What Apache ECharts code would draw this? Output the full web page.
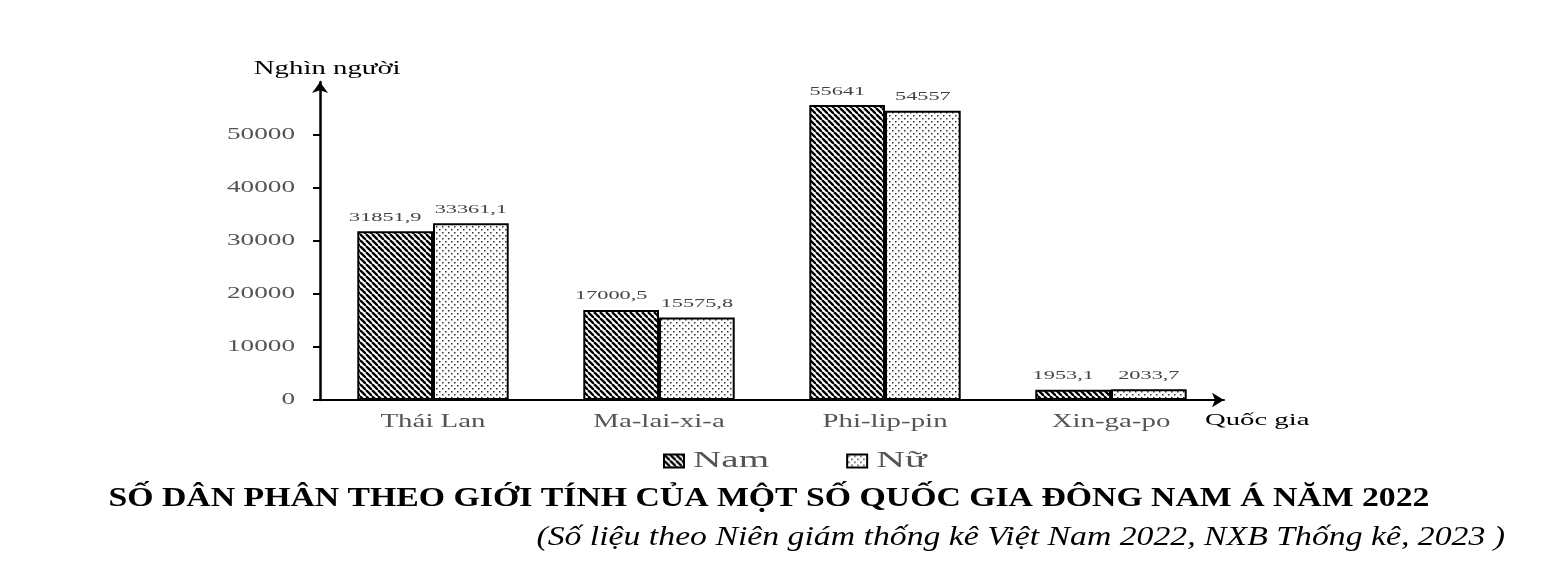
<!DOCTYPE html>
<html>
<head>
<meta charset="utf-8">
<script src="https://cdn.jsdelivr.net/npm/echarts@6/dist/echarts.min.js"></script>
<style>html,body{margin:0;padding:0;background:#fff}#c{width:1555px;height:561px}</style>
</head>
<body>
<div id="c"></div>
<script>
const categories = ['Thái Lan', 'Ma-lai-xi-a', 'Phi-lip-pin', 'Xin-ga-po'];
const namValues = [31851.9, 17000.5, 55641, 1953.1];
const nuValues = [33361.1, 15575.8, 54557, 2033.7];
const yTicks = [0, 10000, 20000, 30000, 40000, 50000];
const titleText = 'SỐ DÂN PHÂN THEO GIỚI TÍNH CỦA MỘT SỐ QUỐC GIA ĐÔNG NAM Á NĂM 2022';
const subText = '(Số liệu theo Niên giám thống kê Việt Nam 2022, NXB Thống kê, 2023 )';

function stripePattern() {
  const c = document.createElement('canvas');
  const s = 6;
  c.width = s; c.height = s;
  const g = c.getContext('2d');
  g.fillStyle = '#fff'; g.fillRect(0, 0, s, s);
  g.strokeStyle = '#000'; g.lineWidth = 2.3;
  for (const o of [-s, 0, s]) {
    g.beginPath(); g.moveTo(o, 0); g.lineTo(o + s, s); g.stroke();
  }
  return c;
}
function dotPattern() {
  const c = document.createElement('canvas');
  const s = 6;
  c.width = s; c.height = s;
  const g = c.getContext('2d');
  g.fillStyle = '#fff'; g.fillRect(0, 0, s, s);
  g.fillStyle = '#333';
  g.fillRect(1, 1, 1.5, 1.5);
  g.fillRect(4, 4, 1.5, 1.5);
  return c;
}
const fmt = v => String(v).replace('.', ',');
const serif = '"Liberation Serif", "Times New Roman", serif';

const chart = echarts.init(document.getElementById('c'));
chart.setOption({
  animation: false,
  textStyle: { fontFamily: serif },
  title: [
    {
      text: titleText,
      left: 764, top: 481, textAlign: 'center',
      textStyle: { fontFamily: serif, fontWeight: 'bold', fontSize: 27, color: '#000' }
    },
    {
      text: subText,
      left: 1500, top: 519, textAlign: 'right',
      textStyle: { fontFamily: serif, fontStyle: 'italic', fontWeight: 'normal', fontSize: 27, color: '#000' }
    }
  ],
  legend: {
    left: 658, top: 444, itemGap: 108, itemWidth: 20, itemHeight: 13, icon: 'rect',
    textStyle: { fontFamily: serif, fontSize: 24, color: '#555', padding: [0, 0, 0, 2.5] },
    data: ['Nam', 'Nữ']
  },
  grid: { left: 320, right: 331, top: 82, bottom: 161 },
  xAxis: {
    type: 'category', data: categories,
    name: 'Quốc gia', nameLocation: 'end', nameGap: -19,
    nameTextStyle: { fontFamily: serif, fontSize: 17.5, color: '#000', verticalAlign: 'top', align: 'left', padding: [11.5, 0, 0, 0] },
    axisLine: { lineStyle: { color: '#000', width: 2 }, symbol: ['none', 'arrow'], symbolSize: [11, 12] },
    axisTick: { show: false },
    axisLabel: { fontFamily: serif, fontSize: 19, color: '#555', margin: 13 }
  },
  yAxis: {
    type: 'value', min: 0, max: 60000,
    name: 'Nghìn người', nameLocation: 'end', nameGap: 4,
    nameTextStyle: { fontFamily: serif, fontSize: 18, color: '#000', align: 'center', padding: [0, 0, 0, 9] },
    axisLine: { show: true, lineStyle: { color: '#000', width: 2.5 }, symbol: ['none', 'arrow'], symbolSize: [12, 11] },
    axisTick: { show: true, length: 7, lineStyle: { color: '#000', width: 2 }, customValues: yTicks },
    axisLabel: { fontFamily: serif, fontSize: 16.5, color: '#555', margin: 25, customValues: yTicks, formatter: v => String(v) },
    splitLine: { show: false }
  },
  series: [
    {
      name: 'Nam', type: 'bar', data: namValues, barGap: '0%', barCategoryGap: '33%',
      itemStyle: { color: { image: stripePattern(), repeat: 'repeat' }, borderColor: '#000', borderWidth: 2 },
      label: { show: true, position: 'top', distance: 7, offset: [-6, 0], fontFamily: serif, fontSize: 13.5, color: '#444', formatter: p => fmt(p.value) }
    },
    {
      name: 'Nữ', type: 'bar', data: nuValues,
      itemStyle: { color: { image: dotPattern(), repeat: 'repeat' }, borderColor: '#000', borderWidth: 2 },
      label: { show: true, position: 'top', distance: 7, fontFamily: serif, fontSize: 13.5, color: '#444', formatter: p => fmt(p.value) }
    }
  ]
});

// The reference typesetting is horizontally stretched; widen the rendered text glyphs accordingly.
const stretch = new Map();
stretch.set(titleText, 1.25);
stretch.set(subText, 1.25);
stretch.set('Nam', 1.63);
stretch.set('Nữ', 1.66);
stretch.set('Nghìn người', 1.6);
stretch.set('Quốc gia', 1.64);
categories.forEach(c => stretch.set(c, 1.52));
namValues.concat(nuValues).forEach(v => stretch.set(fmt(v), 1.65));
yTicks.forEach(v => stretch.set(String(v), 1.65));

const zr = chart.getZr();
function widen(el) {
  if (!el || el.type !== 'text' || !el.style || el.style.text == null) return false;
  const s = stretch.get(String(el.style.text));
  if (!s) return false;
  el.originX = el.style.x || 0;
  el.originY = el.style.y || 0;
  el.scaleX = s;
  el.markRedraw();
  return true;
}
function visit(el) {
  widen(el);
  const tc = el.getTextContent && el.getTextContent();
  if (tc && widen(tc)) el.markRedraw();
}
const roots = zr.storage.getRoots ? zr.storage.getRoots() : zr.storage._roots;
roots.forEach(r => { visit(r); if (r.traverse) r.traverse(visit); });
zr.refreshImmediately();
</script>
</body>
</html>
